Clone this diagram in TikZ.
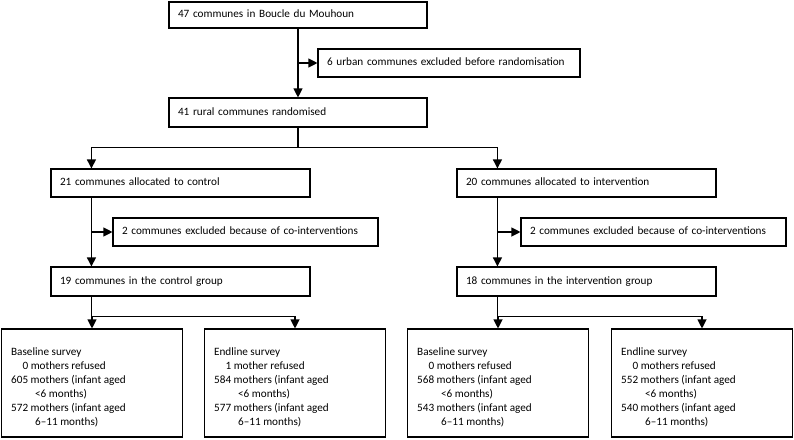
\documentclass[tikz,border=0pt]{standalone}
\usepackage{fontspec}
\setmainfont{Carlito}
\usetikzlibrary{arrows.meta,calc}
\begin{document}
\begin{tikzpicture}[x=1pt,y=-1pt,
  box/.style={draw, line width=1.1pt, text width=#1, inner xsep=9pt, inner ysep=0pt,
    align=left, font=\fontsize{11.2}{14}\selectfont, text height=8pt, text depth=2.5pt},
  sbox/.style={draw, line width=1.1pt, minimum width=181pt, minimum height=108pt, inner sep=0pt},
  txt/.style={anchor=base west, inner sep=0pt, font=\fontsize{11.2}{14}\selectfont},
  conn/.style={line width=1.1pt},
  arr/.style={line width=1.1pt, -{Triangle[length=9pt,width=9pt]}}
]
\useasboundingbox (0,0) rectangle (794,439);

% top part
\node[box=240pt, minimum height=26pt] (top) at (298,15) {47 communes in Boucle du Mouhoun};
\node[box=244pt, minimum height=28pt] (ex1) at (449,63) {6 urban communes excluded before randomisation};
\node[box=240pt, minimum height=29pt] (rand) at (298,112.5) {41 rural communes randomised};

% arms
\node[box=241pt, minimum height=28pt] (ctrl) at (180.5,183) {21 communes allocated to control};
\node[box=247pt, minimum height=28pt] (ex2) at (245.5,232) {2 communes excluded because of co-interventions};
\node[box=241pt, minimum height=29pt] (cgrp) at (180.5,281.5) {19 communes in the control group};

\node[box=241pt, minimum height=28pt] (int) at (586.5,183) {20 communes allocated to intervention};
\node[box=247pt, minimum height=28pt] (ex3) at (653.5,232) {2 communes excluded because of co-interventions};
\node[box=241pt, minimum height=29pt] (igrp) at (586.5,281.5) {18 communes in the intervention group};

\coordinate (cdrop) at ([xshift=41pt]ctrl.north west);
\coordinate (idrop) at ([xshift=41pt]int.north west);

% survey boxes
\node[sbox] (cb) at (92,383) {};
\node[sbox] (ce) at (295,383) {};
\node[sbox] (ib) at (498,383) {};
\node[sbox] (ie) at (702,383) {};

\node[txt] (cbt) at ([xshift=10pt]cb.west |- 0,355.5) {\begin{tabular}[t]{@{}l@{}}Baseline survey\\
\hspace{11.4pt}0 mothers refused\\
605 mothers (infant aged\\
\hspace{24pt}<6 months)\\
572 mothers (infant aged\\
\hspace{24pt}6–11 months)\end{tabular}};
\node[txt] (cet) at ([xshift=10pt]ce.west |- 0,355.5) {\begin{tabular}[t]{@{}l@{}}Endline survey\\
\hspace{11.4pt}1 mother refused\\
584 mothers (infant aged\\
\hspace{24pt}<6 months)\\
577 mothers (infant aged\\
\hspace{24pt}6–11 months)\end{tabular}};
\node[txt] (ibt) at ([xshift=10pt]ib.west |- 0,355.5) {\begin{tabular}[t]{@{}l@{}}Baseline survey\\
\hspace{11.4pt}0 mothers refused\\
568 mothers (infant aged\\
\hspace{24pt}<6 months)\\
543 mothers (infant aged\\
\hspace{24pt}6–11 months)\end{tabular}};
\node[txt] (iet) at ([xshift=10pt]ie.west |- 0,355.5) {\begin{tabular}[t]{@{}l@{}}Endline survey\\
\hspace{11.4pt}0 mothers refused\\
552 mothers (infant aged\\
\hspace{24pt}<6 months)\\
540 mothers (infant aged\\
\hspace{24pt}6–11 months)\end{tabular}};

% connectors
\draw[arr] (top.south) -- (rand.north);
\draw[arr] (top.south |- ex1.west) -- (ex1.west);
\draw[conn] (rand.south) -- ++(0,20) coordinate (rsplit);
\draw[arr] (rsplit) -| (cdrop);
\draw[arr] (rsplit) -| (idrop);

\draw[arr] (cdrop |- ctrl.south) -- (cdrop |- cgrp.north);
\draw[arr] (cdrop |- ex2.west) -- (ex2.west);
\draw[arr] (idrop |- int.south) -- (idrop |- igrp.north);
\draw[arr] (idrop |- ex3.west) -- (ex3.west);

\draw[conn] (cdrop |- cgrp.south) -- ++(0,20) coordinate (csplit);
\draw[arr] (csplit) -| (cb.north);
\draw[arr] (csplit) -| (ce.north);
\draw[conn] (idrop |- igrp.south) -- ++(0,20) coordinate (isplit);
\draw[arr] (isplit) -| (ib.north);
\draw[arr] (isplit) -| (ie.north);
\end{tikzpicture}
\end{document}
